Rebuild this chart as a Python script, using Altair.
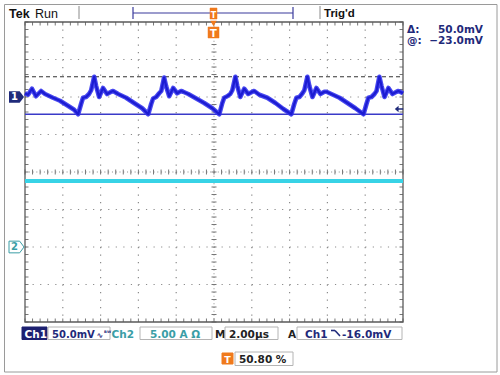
import altair as alt
import pandas as pd
import numpy as np

# Ch1 trace: time (µs, 2.00 µs/div, trigger at 0) and voltage (mV, 50 mV/div)
ch1_t = [-10.00, -9.84, -9.63, -9.42, -9.15, -8.94, -8.52, -8.15, -7.77, -7.40, -7.19,
         -7.03, -6.93, -6.77, -6.61, -6.50, -6.34, -6.24, -6.08, -5.87, -5.66, -5.44, -5.34, -5.07, -4.65, -4.23, -3.80, -3.48,
         -3.32, -3.22, -3.06, -2.90, -2.79, -2.64, -2.53, -2.37, -2.16, -1.95, -1.74, -1.63, -1.36, -0.94, -0.52, -0.09, 0.28,
         0.44, 0.54, 0.70, 0.86, 0.97, 1.13, 1.23, 1.39, 1.60, 1.81, 2.03, 2.13, 2.40, 2.82, 3.25, 3.67, 4.09,
         4.25, 4.36, 4.52, 4.68, 4.78, 4.94, 5.05, 5.21, 5.42, 5.63, 5.84, 5.95, 6.21, 6.64, 7.06, 7.48, 7.91,
         8.07, 8.17, 8.33, 8.49, 8.60, 8.75, 8.86, 9.02, 9.23, 9.44, 9.66, 9.76, 10.00]
ch1_mv = [5, 3, 11, 1, 8, 4, -1, -5, -11, -17, -23,
          -9, -1, 0, 4, 9, 27, 15, 0, 12, 4, 7, 8, 4, -1, -8, -15, -23,
          -9, -2, 0, 5, 8, 26, 14, 1, 12, 5, 8, 7, 4, -2, -8, -15, -23,
          -8, -1, 1, 4, 9, 27, 15, 0, 11, 4, 7, 8, 3, -1, -8, -16, -23,
          -9, -1, 0, 5, 9, 27, 14, 0, 12, 4, 7, 7, 4, -1, -8, -15, -23,
          -9, -1, 0, 4, 8, 27, 15, 0, 12, 4, 7, 8, 5]
# Ch2 trace: current (A, 5.00 A/div)
ch2_t = [-10.0, 10.0]
ch2_a = [8.8, 8.8]
# channel vertical positions (divisions from centre)
ch_names = ["1", "2"]
ch_pos = [2.0, -2.0]
ch1_scale_mv = 50.0
ch2_scale_a = 5.0
# cursors (mV on Ch1): "@" cursor and "@ + Δ" cursor
cursor_mv = [-23.0, 27.0]
trigger_mv = [-16.0]

# ---------------- layout ----------------
L, T = 25, 22           # graticule origin on the page
W, H = 378, 300         # graticule size (10 x 8 divisions)
NAVY = "#1f2a7a"
TEAL = "#3a9ea6"
ORANGE = "#f07a1c"
BLK = "#222222"
FONT = "DejaVu Sans"

xs = alt.Scale(domain=[-10, 10], nice=False, zero=False)
ys = alt.Scale(domain=[-4, 4], nice=False, zero=False)


def X(f):
    return alt.X(f, type="quantitative", scale=xs, axis=None)


def Y(f):
    return alt.Y(f, type="quantitative", scale=ys, axis=None)


one = pd.DataFrame({"k": [0]})


def px(x):
    return alt.value(x - L)


def py(y):
    return alt.value(y - T)


def label(x, y, s, color=NAVY, size=10.5, weight="bold", align="left", font=FONT):
    return alt.Chart(one).mark_text(text=s, color=color, fontSize=size, fontWeight=weight,
                                    align=align, baseline="alphabetic", font=font).encode(x=px(x), y=py(y))


def box(x1, y1, x2, y2, fill="transparent", stroke="#b4b4b4", sw=1):
    return alt.Chart(one).mark_rect(fill=fill, stroke=stroke, strokeWidth=sw).encode(
        x=px(x1), x2=px(x2), y=py(y1), y2=py(y2))


def seg(x1, y1, x2, y2, color, sw=1.0):
    return alt.Chart(one).mark_rule(color=color, strokeWidth=sw).encode(
        x=px(x1), x2=px(x2), y=py(y1), y2=py(y2))


layers = []

# ---------------- graticule ----------------
vdiv = pd.DataFrame({"t": [-8, -6, -4, -2, 2, 4, 6, 8]})
hdiv = pd.DataFrame({"d": [-3, -2, -1, 1, 2, 3]})
layers.append(alt.Chart(vdiv).mark_rule(color="#8c8c8c", strokeWidth=1.2, strokeDash=[1.2, 6.3]).encode(
    x=X("t"), y=alt.value(0), y2=alt.value(H)))
layers.append(alt.Chart(hdiv).mark_rule(color="#8c8c8c", strokeWidth=1.2, strokeDash=[1.2, 6.36]).encode(
    y=Y("d"), x=alt.value(0), x2=alt.value(W)))
# centre crosshair
layers.append(alt.Chart(pd.DataFrame({"t": [0]})).mark_rule(color="#8c8c8c", strokeWidth=1, strokeDash=[1, 2.75]).encode(
    x=X("t"), y=alt.value(0), y2=alt.value(H)))
layers.append(alt.Chart(pd.DataFrame({"d": [0]})).mark_rule(color="#8c8c8c", strokeWidth=1, strokeDash=[1, 2.78]).encode(
    y=Y("d"), x=alt.value(0), x2=alt.value(W)))
tminor = pd.DataFrame({"t": np.round(np.arange(-10, 10.001, 0.4), 2)})
dminor = pd.DataFrame({"d": np.round(np.arange(-4, 4.001, 0.2), 2)})
tick_col = "#777777"
layers.append(alt.Chart(tminor).mark_rule(color=tick_col, strokeWidth=1).encode(
    x=X("t"), y=alt.value(0), y2=alt.value(3.5)))
layers.append(alt.Chart(tminor).mark_rule(color=tick_col, strokeWidth=1).encode(
    x=X("t"), y=alt.value(H - 3.5), y2=alt.value(H)))
layers.append(alt.Chart(tminor).mark_rule(color=tick_col, strokeWidth=1).encode(
    x=X("t"), y=alt.value(H / 2 - 2.5), y2=alt.value(H / 2 + 2.5)))
layers.append(alt.Chart(dminor).mark_rule(color=tick_col, strokeWidth=1).encode(
    y=Y("d"), x=alt.value(0), x2=alt.value(3.5)))
layers.append(alt.Chart(dminor).mark_rule(color=tick_col, strokeWidth=1).encode(
    y=Y("d"), x=alt.value(W - 3.5), x2=alt.value(W)))
layers.append(alt.Chart(dminor).mark_rule(color=tick_col, strokeWidth=1).encode(
    y=Y("d"), x=alt.value(W / 2 - 2.5), x2=alt.value(W / 2 + 2.5)))
# graticule frame
layers.append(alt.Chart(one).mark_rect(fill="transparent", stroke="#5a5a5a", strokeWidth=1.3).encode(
    x=alt.value(0), x2=alt.value(W), y=alt.value(0), y2=alt.value(H)))

# ---------------- signals ----------------
ch1 = pd.DataFrame({"t": ch1_t, "mv": ch1_mv})
ch2 = pd.DataFrame({"t": ch2_t, "a": ch2_a})
pos1, pos2 = ch_pos
layers.append(alt.Chart(ch2).transform_calculate(d=f"{pos2} + datum.a / {ch2_scale_a}").mark_line(
    color="#38d3e6", strokeWidth=4).encode(x=X("t"), y=Y("d")))

cur = pd.DataFrame({"mv": cursor_mv, "kind": ["solid", "dashed"]})
layers.append(alt.Chart(cur).transform_filter("datum.kind == 'dashed'").transform_calculate(
    d=f"{pos1} + datum.mv / {ch1_scale_mv}").mark_rule(color="#333333", strokeWidth=1, strokeDash=[4, 3]).encode(
    y=Y("d"), x=alt.value(0), x2=alt.value(W)))
layers.append(alt.Chart(cur).transform_filter("datum.kind == 'solid'").transform_calculate(
    d=f"{pos1} + datum.mv / {ch1_scale_mv}").mark_rule(color="#3a3ac8", strokeWidth=1.4).encode(
    y=Y("d"), x=alt.value(0), x2=alt.value(W)))

layers.append(alt.Chart(ch1).transform_calculate(d=f"{pos1} + datum.mv / {ch1_scale_mv}").mark_line(
    color="#3434ee", strokeWidth=4.6, strokeJoin="round", opacity=0.9).encode(x=X("t"), y=Y("d")))
layers.append(alt.Chart(ch1).transform_calculate(d=f"{pos1} + datum.mv / {ch1_scale_mv}").mark_line(
    color="#1c1cd2", strokeWidth=2.2, strokeJoin="round").encode(x=X("t"), y=Y("d")))

# trigger level arrow (right edge)
trig = pd.DataFrame({"mv": trigger_mv})
layers.append(alt.Chart(trig).transform_calculate(d=f"{pos1} + datum.mv / {ch1_scale_mv}").mark_point(
    shape="M-1,0 L-0.1,-0.75 L-0.1,-0.2 L1,-0.2 L1,0.2 L-0.1,0.2 L-0.1,0.75 Z",
    filled=True, color=NAVY, size=70, opacity=1).encode(y=Y("d"), x=px(399)))

# channel ground markers (left edge)
mk = pd.DataFrame({"ch": ch_names, "d": ch_pos})
arrow_shape = "M-1,-0.78 L0.42,-0.78 L1,0 L0.42,0.78 L-1,0.78 Z"
layers.append(alt.Chart(mk).transform_filter("datum.ch == '1'").mark_point(
    shape=arrow_shape, filled=True, color=NAVY, size=225, opacity=1).encode(y=Y("d"), x=px(16.5)))
layers.append(alt.Chart(mk).transform_filter("datum.ch == '2'").mark_point(
    shape=arrow_shape, filled=True, fill="white", stroke=TEAL, strokeWidth=1, size=225, opacity=1).encode(
    y=Y("d"), x=px(16.5)))
layers.append(alt.Chart(mk).transform_filter("datum.ch == '1'").mark_text(
    text="1", color="white", fontSize=10, fontWeight="bold", font=FONT, baseline="middle", align="center").encode(
    y=Y("d"), x=px(14.5)))
layers.append(alt.Chart(mk).transform_filter("datum.ch == '2'").mark_text(
    text="2", color=TEAL, fontSize=10, fontWeight="bold", font=FONT, baseline="middle", align="center").encode(
    y=Y("d"), x=px(14.5)))

# ---------------- screen frame and top bar ----------------
layers.append(box(4.5, 4.5, 497, 372, stroke="#9a9a9a", sw=1))
layers.append(label(9, 18, "Tek", color="#111111", size=12.5, weight="bold", font="Liberation Sans"))
layers.append(label(35, 18, "Run", color="#111111", size=12.5, weight="normal", font="Liberation Sans"))
layers.append(seg(79, 6, 79, 19, "#8a8a8a", 1))
layers.append(seg(133, 13, 293, 13, "#3b3b9c", 1.2))
layers.append(seg(133, 7, 133, 19, "#3b3b9c", 1.2))
layers.append(seg(293, 7, 293, 19, "#3b3b9c", 1.2))
layers.append(box(210, 8, 217, 19, fill=ORANGE, stroke=ORANGE, sw=0.5))
layers.append(label(213.5, 18, "T", color="white", size=8, weight="bold", align="center"))
layers.append(alt.Chart(one).mark_point(shape="triangle-down", filled=True, color=ORANGE, size=40, opacity=1).encode(
    x=px(213.5), y=py(23.5)))
layers.append(box(208, 27, 219, 38, fill=ORANGE, stroke=ORANGE, sw=0.5))
layers.append(label(213.5, 36.5, "T", color="white", size=10, weight="bold", align="center"))
layers.append(seg(320, 6, 320, 19, "#8a8a8a", 1))
layers.append(label(324, 17, "Trig'd", color="#111111", size=11.5, weight="bold", font="Liberation Sans"))

# right read-out panel
layers.append(label(407, 33, "Δ:", size=10.5))
layers.append(label(483, 33, "50.0mV", size=10.5, align="right"))
layers.append(label(407, 43.5, "@:", size=10.5))
layers.append(label(483, 43.5, "−23.0mV", size=10.5, align="right"))

# ---------------- bottom status line ----------------
SY = 337.5
layers.append(box(22, 327, 47, 339.5, fill="#1c2070", stroke="#1c2070"))
layers.append(label(24.5, SY, "Ch1", color="white", size=10.5))
layers.append(box(48, 327, 110, 339.5))
layers.append(label(52, SY, "50.0mV", size=10))
layers.append(label(96.5, SY, "∿", size=8))
layers.append(label(104, SY - 2.5, "ᴮᵂ", size=6))
layers.append(label(111.5, SY, "Ch2", color=TEAL, size=10.5))
layers.append(box(140, 327, 212, 339.5))
layers.append(label(150, SY, "5.00 A Ω", color=TEAL, size=10.5))
layers.append(label(215, SY, "M", color=BLK, size=10.5))
layers.append(box(225, 327, 278, 339.5))
layers.append(label(229, SY, "2.00µs", color=BLK, size=10.5))
layers.append(label(288, SY, "A", color=BLK, size=10.5))
layers.append(box(297, 327, 402, 339.5))
layers.append(label(305, SY, "Ch1", size=10.5))
layers.append(seg(331, 330.5, 335, 330.5, NAVY, 1.6))
layers.append(seg(335, 330.5, 340, 336, NAVY, 1.6))
layers.append(label(342, SY, "-16.0mV", size=10.5))

layers.append(box(222, 353, 233, 364, fill=ORANGE, stroke=ORANGE))
layers.append(label(227.5, 362.5, "T", color="white", size=9.5, align="center"))
layers.append(box(235, 352, 293, 365.5))
layers.append(label(239, 363, "50.80 %", color=BLK, size=10.5))

chart = alt.layer(*layers).properties(
    width=W, height=H,
    padding={"left": L, "top": T, "right": 500 - L - W, "bottom": 375 - T - H},
    autosize=alt.AutoSizeParams(type="none"),
    background="white",
).configure_view(strokeWidth=0)

chart.save("out.html", embed_options={"renderer": "svg", "actions": False})
